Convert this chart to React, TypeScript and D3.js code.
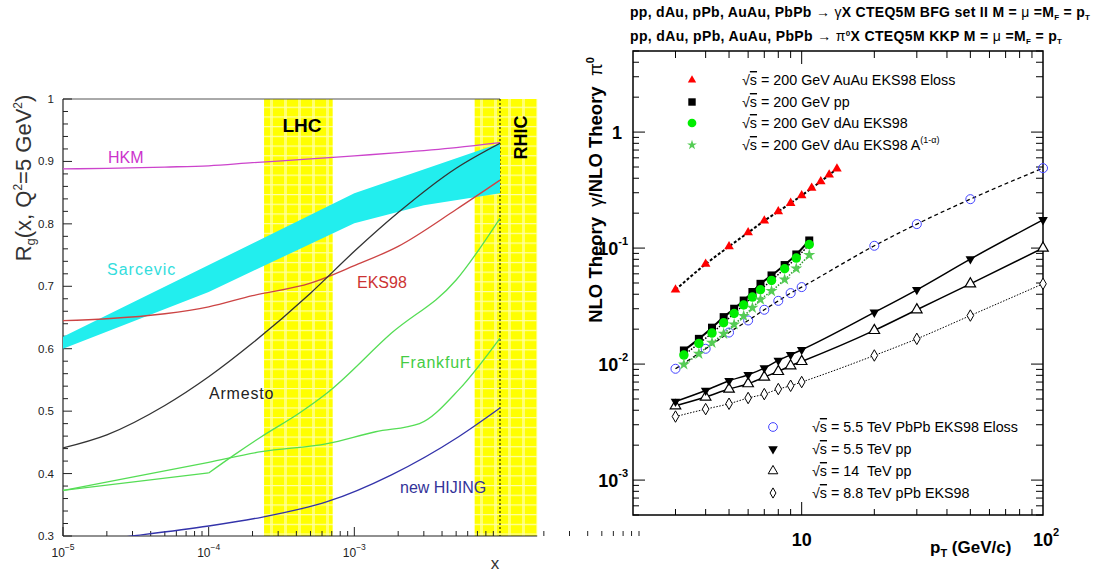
import React from 'react';
import * as d3 from 'd3';

// ---------- Left panel data: [x, Rg] ----------
const hkm: [number, number][] = [[1e-5, 0.888], [2e-5, 0.889], [5e-5, 0.891], [1e-4, 0.893], [2e-4, 0.898], [5e-4, 0.904], [1e-3, 0.909], [2e-3, 0.914], [5e-3, 0.922], [1e-2, 0.930]];
const armesto: [number, number][] = [[1e-5, 0.441], [2e-5, 0.462], [5e-5, 0.509], [1e-4, 0.555], [2e-4, 0.609], [5e-4, 0.689], [1e-3, 0.756], [2e-3, 0.818], [5e-3, 0.889], [1e-2, 0.929]];
const eks98: [number, number][] = [[1e-5, 0.645], [2e-5, 0.648], [5e-5, 0.656], [1e-4, 0.667], [2e-4, 0.685], [5e-4, 0.705], [1e-3, 0.733], [2e-3, 0.764], [5e-3, 0.823], [1e-2, 0.870]];
const sarcevicUpper: [number, number][] = [[1e-5, 0.619], [1e-3, 0.849], [1e-2, 0.929]];
const sarcevicLower: [number, number][] = [[1e-5, 0.600], [1e-4, 0.691], [1e-3, 0.801], [3e-3, 0.830], [1e-2, 0.849]];
const frankfurtLower: [number, number][] = [[1e-5, 0.373], [1e-4, 0.418], [2.3e-4, 0.435], [6.5e-4, 0.448], [1.4e-3, 0.467], [2.8e-3, 0.480], [5.2e-3, 0.534], [1e-2, 0.617]];
const frankfurtUpperA: [number, number][] = [[1e-5, 0.373], [1e-4, 0.401]];
const frankfurtUpperB: [number, number][] = [[1e-4, 0.401], [1.5e-4, 0.430], [2.3e-4, 0.459], [4.2e-4, 0.497], [6.5e-4, 0.529], [1.8e-3, 0.625], [5e-3, 0.710], [1e-2, 0.809]];
const hijing: [number, number][] = [[1e-5, 0.287], [3e-5, 0.300], [1e-4, 0.316], [2.3e-4, 0.330], [4.2e-4, 0.343], [6.5e-4, 0.355], [1.8e-3, 0.398], [5.2e-3, 0.459], [1e-2, 0.505]];
const lhcBand = [2.4e-4, 7.1e-4];
const rhicBand = [6.7e-3, 1.8e-2];
const leftYTicks = [0.3, 0.4, 0.5, 0.6, 0.7, 0.8, 0.9, 1];
const leftXDecades = [-5, -4, -3];

// ---------- Right panel data ----------
const pT200a = [3, 4, 5, 6, 7, 8, 9, 10, 11, 12, 13, 14];
const auauEloss = [0.0437, 0.0728, 0.1032, 0.136, 0.172, 0.207, 0.244, 0.284, 0.329, 0.375, 0.428, 0.483];
const pT200b = [3.25, 3.75, 4.25, 4.75, 5.25, 5.75, 6.25, 6.75, 7.5, 8.5, 9.5, 10.75];
const pp200 = [0.0131, 0.0165, 0.0206, 0.0254, 0.0300, 0.0353, 0.0418, 0.0492, 0.0581, 0.0714, 0.0881, 0.1163];
const dAuEks = [0.01196, 0.01506, 0.0185, 0.0227, 0.0273, 0.0323, 0.0378, 0.0437, 0.0526, 0.0663, 0.082, 0.1074];
const dAuEksA = [0.00993, 0.01227, 0.01527, 0.01824, 0.02194, 0.02593, 0.03055, 0.03606, 0.04259, 0.05361, 0.06669, 0.0871];
const pTLhc = [3, 4, 5, 6, 7, 8, 9, 10, 20, 30, 50, 100];
const pbpbEloss = [0.00911, 0.01355, 0.0187, 0.02377, 0.0294, 0.0351, 0.0409, 0.0461, 0.1047, 0.161, 0.264, 0.489];
const pp55 = [0.00476, 0.00592, 0.00718, 0.00809, 0.00924, 0.01075, 0.01202, 0.01328, 0.0279, 0.0437, 0.0804, 0.175];
const pp14 = [0.00437, 0.0052, 0.00609, 0.00677, 0.00773, 0.00864, 0.00967, 0.01053, 0.0195, 0.0294, 0.0492, 0.1];
const pPbEks = [0.00353, 0.00409, 0.00455, 0.0051, 0.00551, 0.00609, 0.0065, 0.007, 0.01186, 0.0165, 0.0262, 0.0492];
const rightYDecades = [-3, -2, -1, 0];

const FONT = "'Liberation Sans', Arial, Helvetica, sans-serif";

const lx = d3.scaleLog().domain([1e-5, 1e-2]).range([63, 500]);
const ly = d3.scaleLinear().domain([0.3, 1]).range([536, 99]);
const rx = d3.scaleLog().domain([2, 100]).range([633, 1043]);
const ry = d3.scaleLog().domain([5e-4, 5]).range([515, 51]);

const lineL = (curve: any) => d3.line<[number, number]>().x(d => lx(d[0])).y(d => ly(d[1])).curve(curve);
const lineR = d3.line<[number, number]>().x(d => rx(d[0])).y(d => ry(d[1])).curve(d3.curveMonotoneX);
const zipR = (xs: number[], ys: number[]) => xs.map((x, i) => [x, ys[i]] as [number, number]);

const sym = (type: any, size: number) => d3.symbol().type(type).size(size)() as string;

const Sqrt = () => (
  <>
    <tspan>√</tspan>
    <tspan style={{ textDecoration: 'overline' }}>s</tspan>
  </>
);

function Markers({ xs, ys, path, fill, stroke, sw = 1, rot = 0 }: any) {
  return (
    <g>
      {xs.map((x: number, i: number) => (
        <path key={i} d={path} transform={`translate(${rx(x)},${ry(ys[i])}) rotate(${rot})`} fill={fill} stroke={stroke} strokeWidth={sw} />
      ))}
    </g>
  );
}

function LeftPanel() {
  const yMinor: number[] = [];
  for (let v = 0.3; v <= 1.0001; v += 0.02) yMinor.push(+v.toFixed(2));
  const xMinor: number[] = [];
  for (let e = -5; e <= -2; e++) for (let m = 2; m <= 9; m++) xMinor.push(m * Math.pow(10, e));
  const sarcPoly = [...sarcevicUpper.map(d => [lx(d[0]), ly(d[1])]), ...sarcevicLower.slice().reverse().map(d => [lx(d[0]), ly(d[1])])];
  const xEnd = lx(rhicBand[1]);
  return (
    <g fontFamily={FONT}>
      <defs>
        <pattern id="yel" width="14" height="9.7" patternUnits="userSpaceOnUse">
          <rect width="14" height="9.7" fill="#ffff00" />
          <rect x="4" width="3" height="9.7" fill="#ffff70" />
          <rect y="0" width="14" height="1.2" fill="#ffffa8" />
        </pattern>
        <clipPath id="lclip">
          <rect x={lx(1e-5)} y={ly(1)} width={lx(1e-2) - lx(1e-5)} height={ly(0.3) - ly(1)} />
        </clipPath>
      </defs>
      {/* yellow bands */}
      <rect x={lx(lhcBand[0])} y={ly(1)} width={lx(lhcBand[1]) - lx(lhcBand[0])} height={ly(0.3) - ly(1)} fill="url(#yel)" />
      <rect x={lx(rhicBand[0])} y={ly(1)} width={lx(rhicBand[1]) - lx(rhicBand[0])} height={ly(0.3) - ly(1)} fill="url(#yel)" />
      {/* frame */}
      <line x1={lx(1e-5)} x2={lx(1e-2)} y1={ly(1)} y2={ly(1)} stroke="#555" strokeWidth={1} />
      <line x1={lx(1e-5)} x2={lx(1e-5)} y1={ly(1)} y2={ly(0.3)} stroke="#222" strokeWidth={1.2} />
      <line x1={lx(1e-5)} x2={xEnd} y1={ly(0.3)} y2={ly(0.3)} stroke="#222" strokeWidth={1.2} />
      <line x1={lx(1e-2)} x2={lx(1e-2)} y1={ly(1)} y2={ly(0.3)} stroke="#000" strokeWidth={1} strokeDasharray="2,2" />
      {/* y ticks */}
      {yMinor.map((v, i) => {
        const major = Math.abs(v * 10 - Math.round(v * 10)) < 1e-6;
        return <line key={i} x1={lx(1e-5)} x2={lx(1e-5) + (major ? 9 : 5)} y1={ly(v)} y2={ly(v)} stroke="#222" strokeWidth={1} />;
      })}
      {leftYTicks.map(v => (
        <text key={v} x={54} y={ly(v) + 4} fontSize={11.5} textAnchor="end" fill="#222">{v === 1 ? '1' : v.toFixed(1)}</text>
      ))}
      {/* x ticks */}
      {xMinor.map((v, i) => (
        <line key={i} x1={lx(v)} x2={lx(v)} y1={ly(0.3)} y2={ly(0.3) - 5} stroke="#222" strokeWidth={1} />
      ))}
      {leftXDecades.map(e => (
        <g key={e}>
          <line x1={lx(Math.pow(10, e))} x2={lx(Math.pow(10, e))} y1={ly(0.3)} y2={ly(0.3) - 9} stroke="#222" strokeWidth={1} />
          <text x={lx(Math.pow(10, e))} y={557} fontSize={12} textAnchor="middle" fill="#222">10<tspan dy={-7} fontSize={8.5}>{`−${-e}`}</tspan></text>
        </g>
      ))}
      {/* curves */}
      <g clipPath="url(#lclip)">
        <polygon points={sarcPoly.map(p => p.join(',')).join(' ')} fill="#22eeee" />
        <path d={lineL(d3.curveMonotoneX)(hkm) as string} fill="none" stroke="#cc44cc" strokeWidth={1.3} />
        <path d={lineL(d3.curveMonotoneX)(eks98) as string} fill="none" stroke="#cc4444" strokeWidth={1.3} />
        <path d={lineL(d3.curveMonotoneX)(armesto) as string} fill="none" stroke="#333333" strokeWidth={1.3} />
        <path d={lineL(d3.curveMonotoneX)(frankfurtLower) as string} fill="none" stroke="#55dd55" strokeWidth={1.3} />
        <path d={lineL(d3.curveLinear)(frankfurtUpperA) as string} fill="none" stroke="#55dd55" strokeWidth={1.3} />
        <path d={lineL(d3.curveMonotoneX)(frankfurtUpperB) as string} fill="none" stroke="#55dd55" strokeWidth={1.3} />
        <path d={lineL(d3.curveMonotoneX)(hijing) as string} fill="none" stroke="#3333aa" strokeWidth={1.3} />
      </g>
      {/* labels */}
      <text x={108} y={163} fontSize={16} fill="#cc33cc">HKM</text>
      <text x={107} y={275} fontSize={16} fill="#33dddd" letterSpacing={1}>Sarcevic</text>
      <text x={357} y={288} fontSize={16} fill="#cc3333">EKS98</text>
      <text x={209} y={399} fontSize={16} fill="#222" letterSpacing={0.8}>Armesto</text>
      <text x={400} y={368} fontSize={16} fill="#44cc44" letterSpacing={0.8}>Frankfurt</text>
      <text x={400} y={493} fontSize={16} fill="#333399">new HIJING</text>
      <text x={302} y={132} fontSize={19} fontWeight="bold" textAnchor="middle" fill="#000">LHC</text>
      <text transform="translate(527,137.5) rotate(-90)" fontSize={18} fontWeight="bold" textAnchor="middle" fill="#000">RHIC</text>
      <text transform="translate(31,178) rotate(-90)" fontSize={22} textAnchor="middle" fill="#333">
        R<tspan dy={4} fontSize={13}>g</tspan><tspan dy={-4}>(x, Q</tspan><tspan dy={-9} fontSize={12}>2</tspan><tspan dy={9}>=5 GeV</tspan><tspan dy={-9} fontSize={12}>2</tspan><tspan dy={9}>)</tspan>
      </text>
      <text x={495} y={569} fontSize={17} textAnchor="middle" fill="#333">x</text>
    </g>
  );
}

function RightPanel() {
  const x0 = rx(2), x1 = rx(100), y0 = ry(5e-4), y1 = ry(5);
  const xMinor: number[] = [];
  for (let m = 3; m <= 9; m++) xMinor.push(m);
  for (let m = 2; m <= 9; m++) xMinor.push(m * 10);
  const yMinor: number[] = [];
  for (let e = -4; e <= 0; e++) for (let m = 2; m <= 9; m++) { const v = m * Math.pow(10, e); if (v >= 5e-4 && v <= 5) yMinor.push(v); }
  const tri = sym(d3.symbolTriangle, 40);
  const triOpen = sym(d3.symbolTriangle, 48);
  const sq = sym(d3.symbolSquare, 64);
  const circ = sym(d3.symbolCircle, 70);
  const circOpen = sym(d3.symbolCircle, 64);
  const star = sym(d3.symbolStar, 45);
  const diam = sym(d3.symbolDiamond, 38);
  const ls = { fontSize: 14.3, style: { whiteSpace: 'pre' as const } };
  return (
    <g fontFamily={FONT}>
      {/* titles */}
      <text x={630} y={17} fontSize={14} fontWeight="bold" fill="#000" textLength={460} lengthAdjust="spacing">
        pp, dAu, pPb, AuAu, PbPb <tspan fontWeight="normal">→ γ</tspan>X CTEQ5M BFG set II M = <tspan fontWeight="normal">μ</tspan> =M<tspan dy={3} fontSize={8}>F</tspan><tspan dy={-3}> = p</tspan><tspan dy={3} fontSize={8}>T</tspan>
      </text>
      <text x={630} y={41} fontSize={14} fontWeight="bold" fill="#000" textLength={432} lengthAdjust="spacing">
        pp, dAu, pPb, AuAu, PbPb <tspan fontWeight="normal">→ π</tspan><tspan dy={-5} fontSize={8}>0</tspan><tspan dy={5}>X CTEQ5M KKP M = </tspan><tspan fontWeight="normal">μ</tspan> =M<tspan dy={3} fontSize={8}>F</tspan><tspan dy={-3}> = p</tspan><tspan dy={3} fontSize={8}>T</tspan>
      </text>
      {/* frame */}
      <rect x={x0} y={y1} width={x1 - x0} height={y0 - y1} fill="none" stroke="#000" strokeWidth={1.5} />
      {/* x ticks */}
      {xMinor.map(v => (
        <g key={v}>
          <line x1={rx(v)} x2={rx(v)} y1={y0} y2={y0 - 6} stroke="#000" strokeWidth={1} />
          <line x1={rx(v)} x2={rx(v)} y1={y1} y2={y1 + 7} stroke="#000" strokeWidth={1} />
        </g>
      ))}
      <line x1={rx(10)} x2={rx(10)} y1={y0} y2={y0 - 13} stroke="#000" strokeWidth={1} />
      <line x1={rx(10)} x2={rx(10)} y1={y1} y2={y1 + 13} stroke="#000" strokeWidth={1} />
      <text x={rx(10)} y={546} fontSize={18} fontWeight="bold" textAnchor="middle">10</text>
      <text x={rx(100) - 10} y={546} fontSize={18} fontWeight="bold">10<tspan dy={-10} fontSize={11}>2</tspan></text>
      {/* y ticks */}
      {yMinor.map((v, i) => (
        <g key={i}>
          <line x1={x0} x2={x0 + 6} y1={ry(v)} y2={ry(v)} stroke="#000" strokeWidth={1} />
          <line x1={x1} x2={x1 - 7} y1={ry(v)} y2={ry(v)} stroke="#000" strokeWidth={1} />
        </g>
      ))}
      {rightYDecades.map(e => (
        <g key={e}>
          <line x1={x0} x2={x0 + 12} y1={ry(Math.pow(10, e))} y2={ry(Math.pow(10, e))} stroke="#000" strokeWidth={1} />
          <line x1={x1} x2={x1 - 12} y1={ry(Math.pow(10, e))} y2={ry(Math.pow(10, e))} stroke="#000" strokeWidth={1} />
          {e === 0 ? (
            <text x={622} y={ry(1) + 7} fontSize={18} fontWeight="bold" textAnchor="end">1</text>
          ) : (
            <text x={628} y={ry(Math.pow(10, e)) + 7} fontSize={18} fontWeight="bold" textAnchor="end">10<tspan dy={-10} fontSize={11}>{`-${-e}`}</tspan></text>
          )}
        </g>
      ))}
      {/* axis titles */}
      <text x={930} y={553} fontSize={17} fontWeight="bold">p<tspan dy={4} fontSize={11}>T</tspan><tspan dy={-4}> (GeV/c)</tspan></text>
      <text transform="translate(602,190) rotate(-90)" fontSize={18.5} fontWeight="bold" textAnchor="middle" style={{ whiteSpace: 'pre' }}>
        {'NLO Theory  '}<tspan fontWeight="normal">γ</tspan>{'/NLO Theory  '}<tspan fontWeight="normal">π</tspan><tspan dy={-8} fontSize={11}>0</tspan>
      </text>
      {/* lines */}
      <path d={lineR(zipR(pT200a, auauEloss)) as string} fill="none" stroke="#000" strokeWidth={2} strokeDasharray="3,2" />
      <path d={lineR(zipR(pTLhc, pbpbEloss)) as string} fill="none" stroke="#000" strokeWidth={1.3} strokeDasharray="4,3" />
      <path d={lineR(zipR(pT200b, pp200)) as string} fill="none" stroke="#000" strokeWidth={2} />
      <path d={lineR(zipR(pT200b, dAuEks)) as string} fill="none" stroke="#000" strokeWidth={1.5} strokeDasharray="1.5,1.5" />
      <path d={lineR(zipR(pT200b, dAuEksA)) as string} fill="none" stroke="#339933" strokeWidth={1.5} strokeDasharray="1.5,1.5" />
      <path d={lineR(zipR(pTLhc, pp55)) as string} fill="none" stroke="#000" strokeWidth={1.5} />
      <path d={lineR(zipR(pTLhc, pp14)) as string} fill="none" stroke="#000" strokeWidth={1.5} />
      <path d={lineR(zipR(pTLhc, pPbEks)) as string} fill="none" stroke="#000" strokeWidth={1} strokeDasharray="1.5,1.5" />
      {/* markers */}
      <Markers xs={pTLhc} ys={pbpbEloss} path={circOpen} fill="none" stroke="#4444ff" sw={1} />
      <Markers xs={pTLhc} ys={pPbEks} path={diam} fill="#fff" stroke="#000" sw={1} />
      <Markers xs={pTLhc} ys={pp14} path={triOpen} fill="#fff" stroke="#000" sw={1.2} />
      <Markers xs={pTLhc} ys={pp55} path={tri} fill="#000" stroke="none" rot={180} />
      <Markers xs={pT200b} ys={pp200} path={sq} fill="#000" stroke="none" />
      <Markers xs={pT200b} ys={dAuEks} path={circ} fill="#00ee00" stroke="none" />
      <Markers xs={pT200b} ys={dAuEksA} path={star} fill="#55cc55" stroke="none" />
      <Markers xs={pT200a} ys={auauEloss} path={tri} fill="#ff0000" stroke="none" />
      {/* legend top */}
      <path d={sym(d3.symbolTriangle, 30)} transform="translate(692,80)" fill="#ff0000" />
      <path d={sym(d3.symbolSquare, 55)} transform="translate(692,102)" fill="#000" />
      <path d={sym(d3.symbolCircle, 60)} transform="translate(692,123)" fill="#00ee00" />
      <path d={sym(d3.symbolStar, 30)} transform="translate(692,145)" fill="#55cc55" />
      <text x={742} y={85} {...ls}><Sqrt />{' = 200 GeV AuAu EKS98 Eloss'}</text>
      <text x={742} y={107} {...ls}><Sqrt />{' = 200 GeV pp'}</text>
      <text x={742} y={128} {...ls}><Sqrt />{' = 200 GeV dAu EKS98'}</text>
      <text x={742} y={150} {...ls}><Sqrt />{' = 200 GeV dAu EKS98 A'}<tspan dy={-7} fontSize={9}>(1-α)</tspan></text>
      {/* legend bottom */}
      <path d={sym(d3.symbolCircle, 60)} transform="translate(773,427)" fill="none" stroke="#4444ff" />
      <path d={sym(d3.symbolTriangle, 40)} transform="translate(773,449) rotate(180)" fill="#000" />
      <path d={sym(d3.symbolTriangle, 40)} transform="translate(773,471)" fill="none" stroke="#000" />
      <path d={sym(d3.symbolDiamond, 30)} transform="translate(773,493)" fill="none" stroke="#000" />
      <text x={812} y={432} {...ls}><Sqrt />{' = 5.5 TeV PbPb EKS98 Eloss'}</text>
      <text x={812} y={454} {...ls}><Sqrt />{' = 5.5 TeV pp'}</text>
      <text x={812} y={476} {...ls}><Sqrt />{' = 14  TeV pp'}</text>
      <text x={812} y={498} {...ls}><Sqrt />{' = 8.8 TeV pPb EKS98'}</text>
    </g>
  );
}

export default function App() {
  return (
    <svg width={1095} height={575} viewBox="0 0 1095 575" style={{ position: 'absolute', left: 0, top: 0, background: '#fff' }}>
      <rect width={1095} height={575} fill="#fff" />
      <LeftPanel />
      <RightPanel />
    </svg>
  );
}
